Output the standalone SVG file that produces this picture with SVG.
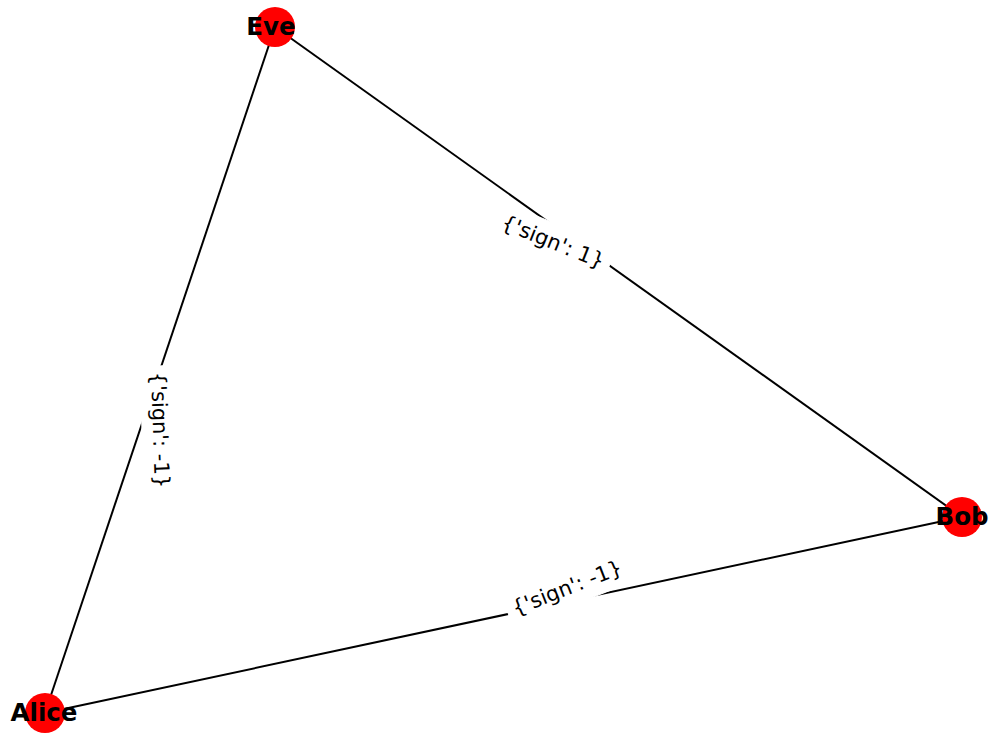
<svg xmlns="http://www.w3.org/2000/svg" width="992" height="734" viewBox="0 0 992 734">
<style>
.edge{stroke:#000;stroke-width:2;fill:none}
.lblbox{fill:#fff;stroke:#fff}
.lbl{font-family:"DejaVu Sans",sans-serif;font-size:21px;fill:#000;text-anchor:middle}
.node{fill:#ff0000}
.ntext{font-family:"DejaVu Sans",sans-serif;font-size:24.5px;font-weight:bold;fill:#000;text-anchor:middle}
</style>
<rect width="992" height="734" fill="#fff"/>
<g id="edges">
<line class="edge" x1="275" y1="27" x2="962" y2="517"/>
<line class="edge" x1="45" y1="713" x2="275" y2="27"/>
<line class="edge" x1="45" y1="713" x2="962" y2="517"/>
<g transform="translate(553,242) rotate(22)">
<rect class="lblbox" x="-61" y="-18" width="122" height="36" rx="6"/>
<text class="lbl" x="0" y="7">{'sign': 1}</text>
</g>
<g transform="translate(160,430) rotate(88)">
<rect class="lblbox" x="-64" y="-18" width="128" height="36" rx="6"/>
<text class="lbl" x="0" y="7">{'sign': -1}</text>
</g>
<g transform="translate(567,588) rotate(-21.5)">
<rect class="lblbox" x="-64" y="-18" width="128" height="36" rx="6"/>
<text class="lbl" x="0" y="7">{'sign': -1}</text>
</g>
</g>
<g id="node-eve">
<circle class="node" cx="275" cy="27" r="20"/>
<text class="ntext" x="271" y="35">Eve</text>
</g>
<g id="node-bob">
<circle class="node" cx="962" cy="517" r="20"/>
<text class="ntext" x="962" y="525">Bob</text>
</g>
<g id="node-alice">
<circle class="node" cx="45" cy="713" r="20"/>
<text class="ntext" x="44" y="721">Alice</text>
</g>
</svg>
